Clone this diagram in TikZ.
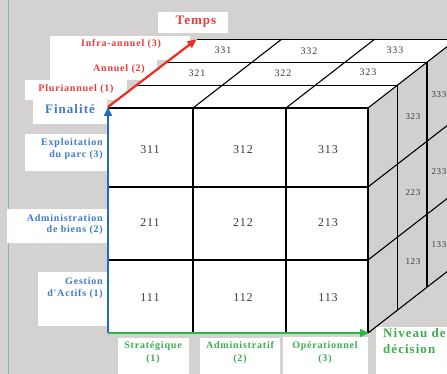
\documentclass[tikz,border=0pt]{standalone}
\usepackage{fontspec}
\setmainfont{Liberation Serif}
\newfontfamily\lblfont{Liberation Serif}[LetterSpace=8]
\usepackage{tikz}
\usetikzlibrary{arrows.meta}
\definecolor{BgGray}{HTML}{D3D2D1}
\definecolor{SideGray}{HTML}{D1D0CF}
\definecolor{EdgeTeal}{HTML}{8DB6C4}
\definecolor{AxBlue}{HTML}{1F6CC6}
\definecolor{AxRed}{HTML}{F22A1E}
\definecolor{AxGreen}{HTML}{33B24B}
\definecolor{TxBlue}{HTML}{3D7ACF}
\definecolor{TxRed}{HTML}{EE3B3B}
\definecolor{TxGreen}{HTML}{3CAE4E}
\definecolor{NumGray}{HTML}{3A3A3A}
\def\dx{29.5}
\def\dy{-22.9}

\begin{document}
\begin{tikzpicture}[x=1pt,y=-1pt,
    cube/.style={draw=black,line width=1.1pt},
    num/.style={font=\lblfont\fontsize{12}{12}\selectfont,text=NumGray,inner sep=0pt},
    snum/.style={font=\lblfont\fontsize{10}{10}\selectfont,text=NumGray,inner sep=0pt},
    rnum/.style={font=\lblfont\fontsize{9}{9}\selectfont,text=NumGray,inner sep=0pt},
    fin/.style={font=\lblfont\bfseries\fontsize{10}{11.5}\selectfont,text=TxBlue,
      align=right,anchor=east,inner sep=0pt},
    lvl/.style={font=\lblfont\bfseries\fontsize{10}{13}\selectfont,text=TxGreen,
      align=center,inner sep=0pt},
    tps/.style={font=\lblfont\bfseries\fontsize{10}{10}\selectfont,text=TxRed,inner sep=0pt},
    axis/.style={line width=2.2pt,-{Triangle[length=9pt,width=8pt]}}]
  \useasboundingbox (0,0) rectangle (447,374);
  \fill[BgGray] (0,0) rectangle (447,374);
  \draw[EdgeTeal,line width=1pt] (8,0) -- (8,374);
  % white label boxes
  \fill[white] (158,12) rectangle (228,33);
  \fill[white] (50,36) rectangle (190,60);
  \fill[white] (50,60) rectangle (157,80);
  \fill[white] (25,80) rectangle (127,100);
  \fill[white] (33,100) rectangle (107,124);
  \fill[white] (25,134) rectangle (107,171);
  \fill[white] (7,209) rectangle (107,243);
  \fill[white] (38,272) rectangle (107,326);
  \fill[white] (118,338) rectangle (189,374);
  \fill[white] (200,338) rectangle (280,374);
  \fill[white] (283,337) rectangle (368,374);
  \fill[white] (376,327) rectangle (447,374);
  % the cube
  \begin{scope}
    \clip (0,0) rectangle (447,374);
    \fill[white] (108,108) rectangle (368,333);
    \fill[white] (108,108) -- (368,108) -- ++({3*\dx},{3*\dy}) -- ({108+3*\dx},{108+3*\dy}) -- cycle;
    \fill[SideGray] (368,108) -- (368,333) -- ++({3*\dx},{3*\dy}) -- ({368+3*\dx},{108+3*\dy}) -- cycle;
    \foreach \x in {193,286,368} \draw[cube] (\x,108) -- (\x,333);
    \foreach \y in {108,187,260} \draw[cube] (108,\y) -- (368,\y);
    \foreach \k in {1,2,3} \draw[cube] ({108+\k*\dx},{108+\k*\dy}) -- ++(260,0);
    \foreach \x in {193,286,368} \draw[cube] (\x,108) -- ++({3*\dx},{3*\dy});
    \foreach \k in {1,2,3} \draw[cube] ({368+\k*\dx},{108+\k*\dy}) -- ++(0,225);
    \foreach \y in {187,260,333} \draw[cube] (368,\y) -- ++({3*\dx},{3*\dy});
  \end{scope}
  % cell numbers
  \node[num] (c311) at (150,150) {311};
  \node[num] (c312) at (243,150) {312};
  \node[num] (c313) at (328,150) {313};
  \node[num] (c211) at (150,223) {211};
  \node[num] (c212) at (243,223) {212};
  \node[num] (c213) at (328,223) {213};
  \node[num] (c111) at (150,298) {111};
  \node[num] (c112) at (243,298) {112};
  \node[num] (c113) at (328,298) {113};
  \node[snum] (t321) at (197,73) {321};
  \node[snum] (t322) at (283,73) {322};
  \node[snum] (t323) at (368,72) {323};
  \node[snum] (t331) at (223,50) {331};
  \node[snum] (t332) at (309,51) {332};
  \node[snum] (t333) at (395,50) {333};
  \node[rnum] (r323) at (413,117) {323};
  \node[rnum] (r223) at (413,193) {223};
  \node[rnum] (r123) at (413,262) {123};
  \node[rnum] (r333) at (439,95) {333};
  \node[rnum] (r233) at (439,172) {233};
  \node[rnum] (r133) at (439,245) {133};
  % axes
  \coordinate (O) at (108,333);
  \coordinate (Fin) at (108,107);
  \coordinate (Dec) at (369,333);
  \coordinate (Tps) at ({108+3*\dx},{108+3*\dy});
  \draw[axis,AxBlue] (O) -- (Fin);
  \draw[axis,AxGreen] (O) -- (Dec);
  \draw[axis,AxRed] (Fin) -- (Tps);
  % axis labels
  \node[tps,font=\lblfont\bfseries\fontsize{13}{13}\selectfont] (temps) at (196,22) {Temps};
  \node[tps] (infra) at (121,44) {Infra-annuel (3)};
  \node[tps] (annuel) at (119,69) {Annuel (2)};
  \node[tps] (pluri) at (76,89) {Pluriannuel (1)};
  \node[font=\lblfont\bfseries\fontsize{13}{13}\selectfont,text=TxBlue,inner sep=0pt] (finalite) at (70,109) {Finalité};
  \node[fin] (exploit) at (103,149) {Exploitation\\du parc (3)};
  \node[fin] (admin) at (103,224.5) {Administration\\de biens (2)};
  \node[fin] (gestion) at (103,288) {Gestion\\d'Actifs (1)};
  \node[lvl] (strat) at (153,352.5) {Stratégique\\(1)};
  \node[lvl] (adm) at (240,352.5) {Administratif\\(2)};
  \node[lvl] (oper) at (325,352.5) {Opérationnel\\(3)};
  \node[font=\lblfont\bfseries\fontsize{13}{16}\selectfont,text=TxGreen,align=left,
    anchor=west,inner sep=0pt] (niveau) at (383,341) {Niveau de\\décision};
\end{tikzpicture}
\end{document}
